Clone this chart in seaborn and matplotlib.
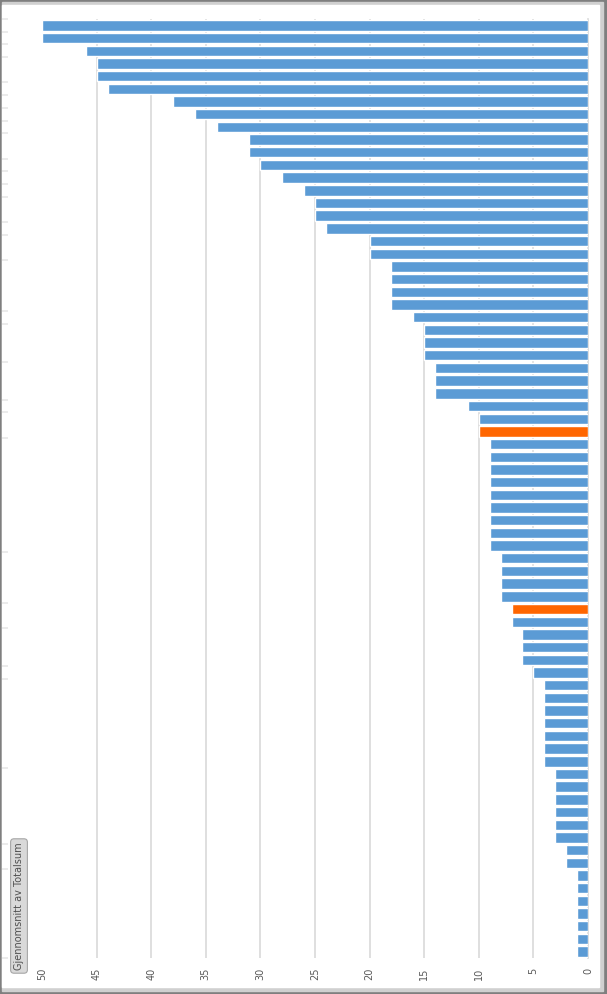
import seaborn as sns
import matplotlib.pyplot as plt
from matplotlib.patches import Rectangle
import pandas as pd

# --- data (sorted averages, one bar per entry) ---
values = [50, 50, 46, 45, 45, 44, 38, 36, 34, 31, 31, 30, 28, 26, 25, 25, 24,
          20, 20, 18, 18, 18, 18, 16, 15, 15, 15, 14, 14, 14, 11, 10, 10,
          9, 9, 9, 9, 9, 9, 9, 9, 9, 8, 8, 8, 8, 7, 7, 6, 6, 6, 5,
          4, 4, 4, 4, 4, 4, 4, 3, 3, 3, 3, 3, 3, 2, 2, 1, 1, 1, 1, 1, 1, 1]
highlighted = [32, 46]
group_breaks = [0, 1, 2, 3, 5, 6, 7, 8, 9, 11, 12, 13, 14, 16, 17, 19, 23, 24,
                27, 30, 31, 33, 42, 46, 48, 51, 52, 59, 65, 67, 74]
value_ticks = [0, 5, 10, 15, 20, 25, 30, 35, 40, 45, 50]
field_label = "Gjennomsnitt av Totalsum"

BLUE = "#5b9bd5"
ORANGE = "#ff6600"

df = pd.DataFrame({
    "item": [str(i) for i in range(len(values))],
    "value": values,
    "kind": ["mark" if i in highlighted else "normal" for i in range(len(values))],
})

sns.set_style("white")

fig = plt.figure(figsize=(6.07, 9.94), dpi=100)
fig.patch.set_facecolor("#7f7f7f")
# window-like frame, kept behind the axes
fig.patches.append(Rectangle((2 / 607, 3 / 994), 601 / 607, 989 / 994,
                             transform=fig.transFigure, color="#d0d0d0", zorder=-10))
fig.patches.append(Rectangle((2 / 607, 7 / 994), 597 / 607, 982 / 994,
                             transform=fig.transFigure, color="white", zorder=-9))

ax = fig.add_axes([42 / 607, 36 / 994, 546 / 607, 939 / 994])
ax.set_facecolor("none")

sns.barplot(data=df, x="value", y="item", hue="kind", orient="h",
            palette={"normal": BLUE, "mark": ORANGE}, width=0.82,
            saturation=1, legend=False, ax=ax, zorder=3)

ax.set_xlim(50, 0)
ax.set_ylim(len(values) - 0.5, -0.5)
ax.set_xlabel("")
ax.set_ylabel("")

# value axis (rotated labels, no tick marks)
ax.set_xticks(value_ticks)
ax.set_xticklabels([str(v) for v in value_ticks], rotation=90,
                   fontsize=7, color="#595959")
ax.tick_params(axis="x", length=0, pad=7)
for v in value_ticks[1:-1]:
    ax.axvline(v, color="#d9d9d9", lw=1.2, zorder=1)

# category axis: only faint group tick marks, far left
ax.set_yticks([b - 0.5 for b in group_breaks])
ax.set_yticklabels([])
ax.tick_params(axis="y", length=4, direction="in", color="#e8e8e8", width=1.2)
ax.spines["left"].set_position(("outward", 28.5))
ax.spines["left"].set_visible(False)
ax.yaxis.set_ticks_position("left")
for s in ["top", "bottom"]:
    ax.spines[s].set_visible(False)
ax.spines["right"].set_color("#d9d9d9")
ax.spines["right"].set_linewidth(1.2)

fig.text(19 / 607, 1 - 906 / 994, field_label, rotation=90, fontsize=7,
         color="#505050", ha="center", va="center",
         bbox=dict(boxstyle="round,pad=0.35", fc="#d9d9d9", ec="#a6a6a6", lw=0.8))

fig.savefig("out.png", dpi=100, facecolor=fig.get_facecolor())
plt.close(fig)
